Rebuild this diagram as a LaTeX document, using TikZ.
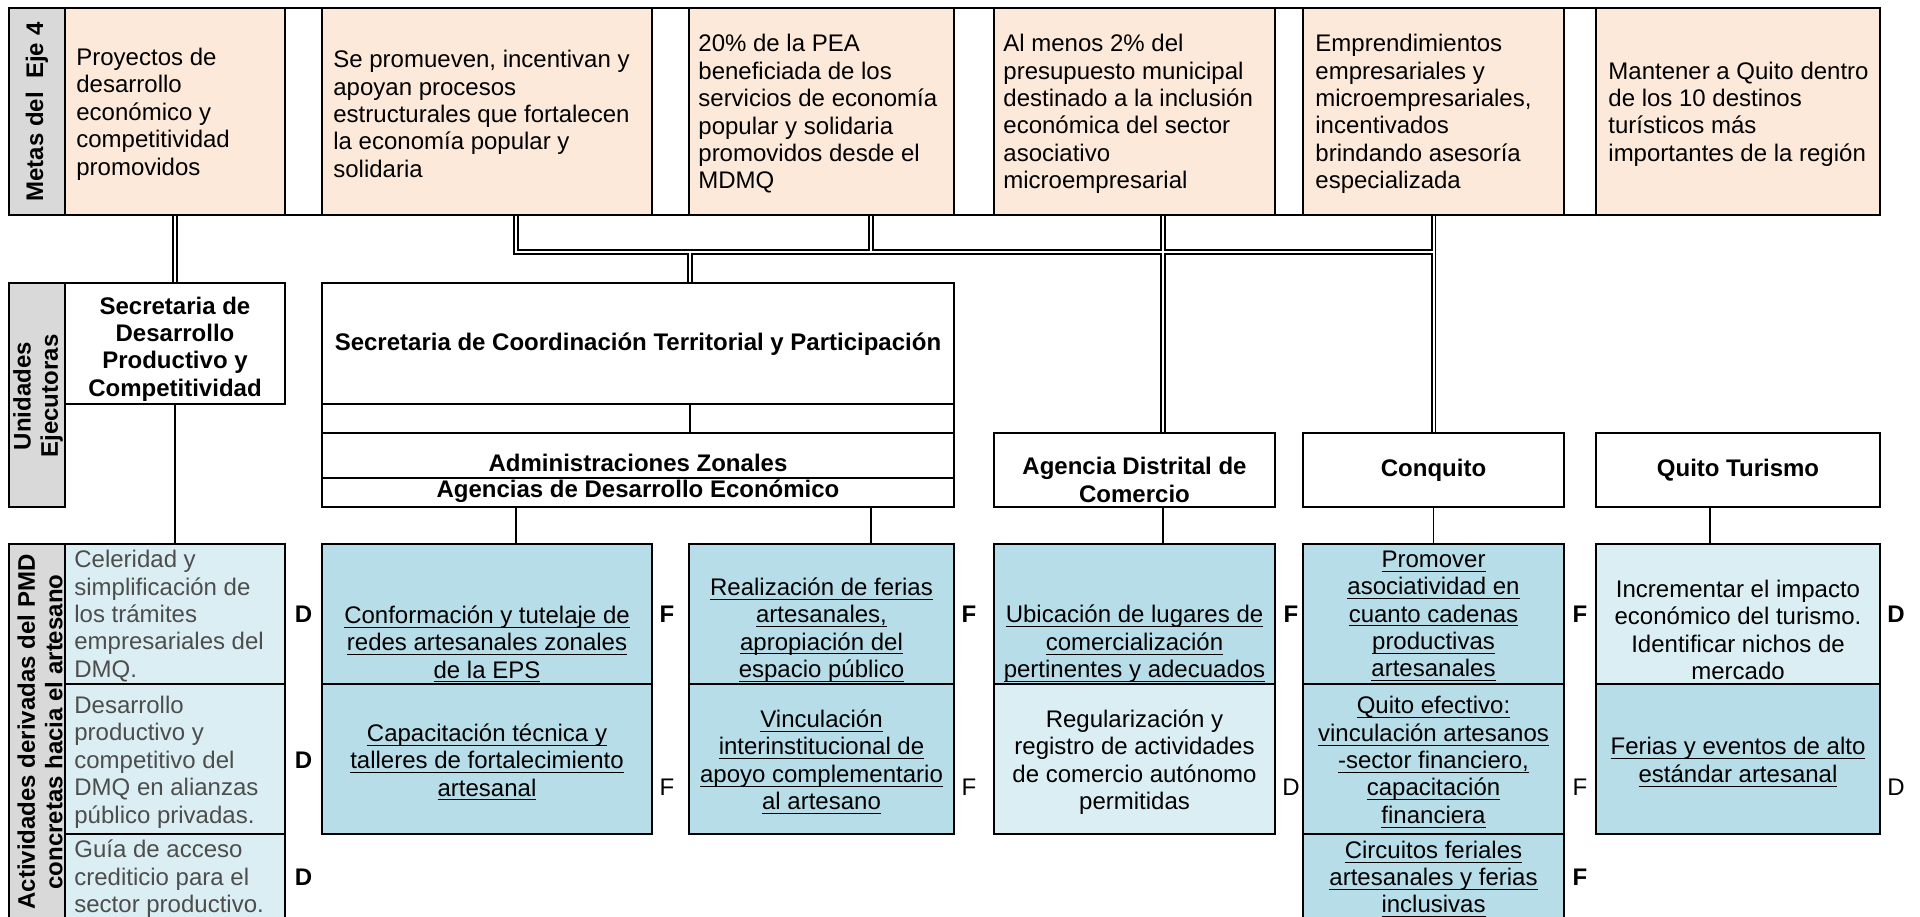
\documentclass[tikz,border=0pt]{standalone}
\usepackage{fontspec}
\setmainfont{Liberation Sans}
\newsavebox{\ulxbox}
\newcommand{\ulx}[1]{\sbox{\ulxbox}{#1}\rlap{\rule[-2.2pt]{\wd\ulxbox}{0.5pt}}\usebox{\ulxbox}}
\definecolor{peach}{HTML}{FDE9D9}
\definecolor{lblue}{HTML}{DAEEF3}
\definecolor{dblue}{HTML}{B7DDE8}
\definecolor{lgray}{HTML}{D9D9D9}
\definecolor{txtgray}{HTML}{4D4D4D}
\pgfdeclarelayer{bg}
\pgfsetlayers{bg,main}
\newcommand{\cbox}[6]{\node[cellbox,#6, minimum width={(#4-#2)*0.5pt}, minimum height={(#5-#3)*0.5pt}] (#1) at ({(#2+#4)/2},{(#3+#5)/2}) {};}
\tikzset{
 cellbox/.style={draw, line width=1.1pt, inner sep=0pt, outer sep=0pt},
 conn/.style={line width=0.9pt},
 dbl/.style={line width=2.6pt},
 dblin/.style={line width=1.0pt, white},
 t/.style={inner sep=0pt, font=\fontsize{12pt}{13.7pt}\selectfont, align=center},
 tl/.style={t, align=left, anchor=west},
 tb/.style={t, font=\fontsize{12pt}{13.7pt}\selectfont\bfseries},
 tg/.style={tl, text=txtgray},
 rot/.style={tb, rotate=90},
 lab/.style={t},
 labb/.style={tb},
}
\begin{document}
\begin{tikzpicture}[x=0.5pt,y=-0.5pt]
\useasboundingbox (0,0) rectangle (1920,916);

% ---- top row: Metas
\cbox{gM}{9}{8}{65}{215}{fill=lgray}
\cbox{B1}{65}{8}{285}{215}{fill=peach}
\cbox{w1}{285}{8}{322}{215}{fill=white}
\cbox{B2}{322}{8}{652}{215}{fill=peach}
\cbox{w2}{652}{8}{689}{215}{fill=white}
\cbox{B3}{689}{8}{954}{215}{fill=peach}
\cbox{w3}{954}{8}{994}{215}{fill=white}
\cbox{B4}{994}{8}{1275}{215}{fill=peach}
\cbox{w4}{1275}{8}{1303}{215}{fill=white}
\cbox{B5}{1303}{8}{1564}{215}{fill=peach}
\cbox{w5}{1564}{8}{1596}{215}{fill=white}
\cbox{B6}{1596}{8}{1880}{215}{fill=peach}

% ---- row 2: Unidades
\cbox{gU}{9}{283}{65}{507}{fill=lgray}
\cbox{SDP}{65}{283}{285}{404}{fill=white}
\cbox{SCTP}{322}{283}{954}{404}{fill=white}
\cbox{SCa}{322}{404}{690}{433}{fill=white}
\cbox{SCb}{690}{404}{954}{433}{fill=white}
\cbox{AZ}{322}{433}{954}{478}{fill=white}
\cbox{ADE}{322}{478}{954}{507}{fill=white}
\cbox{ADC}{994}{433}{1275}{507}{fill=white}
\cbox{CON}{1303}{433}{1564}{507}{fill=white}
\cbox{QT}{1596}{433}{1880}{507}{fill=white}

% ---- row 3: Actividades
\cbox{gA}{9}{544}{65}{919}{fill=lgray}
\cbox{a1}{65}{544}{285}{684}{fill=lblue}
\cbox{a2}{65}{684}{285}{834}{fill=lblue}
\cbox{a3}{65}{834}{285}{919}{fill=lblue}
\cbox{b1}{322}{544}{652}{684}{fill=dblue}
\cbox{b2}{322}{684}{652}{834}{fill=dblue}
\cbox{c1}{689}{544}{954}{684}{fill=dblue}
\cbox{c2}{689}{684}{954}{834}{fill=dblue}
\cbox{d1}{994}{544}{1275}{684}{fill=dblue}
\cbox{d2}{994}{684}{1275}{834}{fill=lblue}
\cbox{e1}{1303}{544}{1564}{684}{fill=dblue}
\cbox{e2}{1303}{684}{1564}{834}{fill=dblue}
\cbox{e3}{1303}{834}{1564}{919}{fill=dblue}
\cbox{f1}{1596}{544}{1880}{684}{fill=lblue}
\cbox{f2}{1596}{684}{1880}{834}{fill=dblue}

% ---- texts top row
\node[rot] (tM) at (37,112) {Metas del~~Eje 4};
\node[tl] (tB1) at (76,114) {Proyectos de\\desarrollo\\económico y\\competitividad\\promovidos};
\node[tl] (tB2) at (333,114) {Se promueven, incentivan y\\apoyan procesos\\estructurales que fortalecen\\la economía popular y\\solidaria};
\node[tl] (tB3) at (698,114) {20\% de la PEA\\beneficiada de los\\servicios de economía\\popular y solidaria\\promovidos desde el\\MDMQ};
\node[tl] (tB4) at (1003,114) {Al menos 2\% del\\presupuesto municipal\\destinado a la inclusión\\económica del sector\\asociativo\\microempresarial};
\node[tl] (tB5) at (1315,114) {Emprendimientos\\empresariales y\\microempresariales,\\incentivados\\brindando asesoría\\especializada};
\node[tl] (tB6) at (1608,114) {Mantener a Quito dentro\\de los 10 destinos\\turísticos más\\importantes de la región};

% ---- texts row 2
\node[rot] (tU) at (38,396) {Unidades\\Ejecutoras};
\node[tb] (tSDP) at (175,349) {Secretaria de\\Desarrollo\\Productivo y\\Competitividad};
\node[tb] (tSCTP) at (638,344) {Secretaria de Coordinación Territorial y Participación};
\node[tb] (tAZ) at (638,463) {Administraciones Zonales};
\node[tb] (tADE) at (638,491) {Agencias de Desarrollo Económico};
\node[tb] (tADC) at (1134.5,480) {Agencia Distrital de\\Comercio};
\node[tb] (tCON) at (1433.5,470) {Conquito};
\node[tb] (tQT) at (1738,470) {Quito Turismo};

% ---- texts row 3
\node[rot] (tA) at (40,732) {Actividades derivadas del PMD\\concretas hacia el artesano};
\node[tg] (ta1) at (74,616) {Celeridad y\\simplificación de\\los trámites\\empresariales del\\DMQ.};
\node[tg] (ta2) at (74,762) {Desarrollo\\productivo y\\competitivo del\\DMQ en alianzas\\público privadas.};
\node[tg] (ta3) at (74,879) {Guía de acceso\\crediticio para el\\sector productivo.};
\node[t] (tb1) at (487,644) {\ulx{Conformación y tutelaje de}\\\ulx{redes artesanales zonales}\\\ulx{de la EPS}};
\node[t] (tb2) at (487,762) {\ulx{Capacitación técnica y}\\\ulx{talleres de fortalecimiento}\\\ulx{artesanal}};
\node[t] (tc1) at (821.5,630) {\ulx{Realización de ferias}\\\ulx{artesanales,}\\\ulx{apropiación del}\\\ulx{espacio público}};
\node[t] (tc2) at (821.5,762) {\ulx{Vinculación}\\\ulx{interinstitucional de}\\\ulx{apoyo complementario}\\\ulx{al artesano}};
\node[t] (td1) at (1134.5,644) {\ulx{Ubicación de lugares de}\\\ulx{comercialización}\\\ulx{pertinentes y adecuados}};
\node[t] (td2) at (1134.5,762) {Regularización y\\registro de actividades\\de comercio autónomo\\permitidas};
\node[t] (te1) at (1433.5,616) {\ulx{Promover}\\\ulx{asociatividad en}\\\ulx{cuanto cadenas}\\\ulx{productivas}\\\ulx{artesanales}};
\node[t] (te2) at (1433.5,762) {\ulx{Quito efectivo:}\\\ulx{vinculación artesanos}\\\ulx{-sector financiero,}\\\ulx{capacitación}\\\ulx{financiera}};
\node[t] (te3) at (1433.5,879) {\ulx{Circuitos feriales}\\\ulx{artesanales y ferias}\\\ulx{inclusivas}};
\node[t] (tf1) at (1738,630) {Incrementar el impacto\\económico del turismo.\\Identificar nichos de\\mercado};
\node[t] (tf2) at (1738,762) {\ulx{Ferias y eventos de alto}\\\ulx{estándar artesanal}};

% ---- F / D labels
\node[labb] (l11) at (303.5,614) {D};
\node[labb] (l12) at (667,614) {F};
\node[labb] (l13) at (969,614) {F};
\node[labb] (l14) at (1291,614) {F};
\node[labb] (l15) at (1580,614) {F};
\node[labb] (l16) at (1896,614) {D};
\node[labb] (l21) at (303.5,760) {D};
\node[lab] (l22) at (667,787) {F};
\node[lab] (l23) at (969,787) {F};
\node[lab] (l24) at (1291,787) {D};
\node[lab] (l25) at (1580,787) {F};
\node[lab] (l26) at (1896,787) {D};
\node[labb] (l31) at (303.5,877) {D};
\node[labb] (l35) at (1580,877) {F};

% ---- helper coordinates
\coordinate (hy) at (0,252);
\coordinate (k0) at (690,0);
\coordinate (k1) at (516,0);
\coordinate (k2) at (871,0);
\coordinate (k3) at (1163,0);
\coordinate (k4) at (1710,0);

% ---- single connectors
\draw[conn] (SDP.south) -- (a1.north);
\draw[conn] (k1 |- ADE.south) -- (k1 |- b1.north);
\draw[conn] (k2 |- ADE.south) -- (k2 |- c1.north);
\draw[conn] (k3 |- ADC.south) -- (k3 |- d1.north);
\draw[conn] (CON.south) -- (e1.north);
\draw[conn] (k4 |- QT.south) -- (k4 |- f1.north);

% ---- double connectors (merged)
\begin{pgfonlayer}{bg}
\foreach \st in {dbl,dblin}{
 \draw[\st] (B1.south) -- (SDP.north);
 \draw[\st] (k1 |- B2.south) -- (k1 |- hy) -- (B5.south |- hy);
 \draw[\st] (k2 |- B3.south) -- (k2 |- hy);
 \draw[\st] (k3 |- B4.south) -- (k3 |- ADC.north);
 \draw[\st] (B5.south) -- (CON.north);
 \draw[\st] (k0 |- hy) -- (k0 |- SCTP.north);
}
\end{pgfonlayer}
\end{tikzpicture}
\end{document}
